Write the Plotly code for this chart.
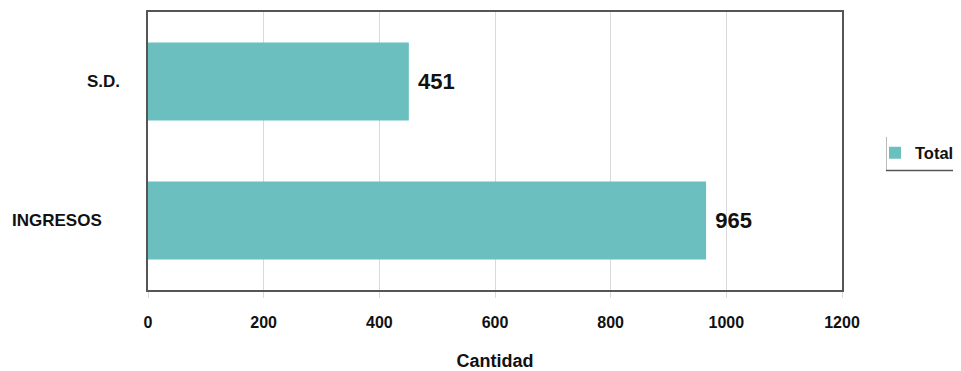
import plotly.graph_objects as go

categories = ["INGRESOS", "S.D."]
values = [965, 451]
x_ticks = [0, 200, 400, 600, 800, 1000, 1200]
series_name = "Total"
x_title = "Cantidad"

FONT = "Liberation Sans, Arial, sans-serif"
COLOR = "#6bbfbf"

# page body has an 8px margin; figure placed so the plot area lands where the reference has it
OFF = 8
PL, PR, PT, PB = 148, 842, 12, 290  # plot area in window pixels
W, H = 961 - OFF, 371 - OFF

def px2paper_x(px):
    return (px - PL) / (PR - PL)

def px2paper_y(py):
    return (PB - py) / (PB - PT)

def px2cont_x(px):
    return (px - OFF) / W

def px2cont_y(py):
    return 1 - (py - OFF) / H

fig = go.Figure()
fig.add_trace(go.Bar(
    y=categories, x=values, orientation="h", name="<b>" + series_name + "</b>",
    marker=dict(color=COLOR, line=dict(width=0)),
    texttemplate="\u00a0<b>%{x}</b>", textposition="outside",
    textfont=dict(family=FONT, size=22, color="#111"),
    cliponaxis=False, showlegend=True,
))

fig.update_layout(
    width=W, height=H,
    margin=dict(l=PL - OFF, r=OFF + W - PR, t=PT - OFF, b=OFF + H - PB, pad=0,
                autoexpand=False),
    paper_bgcolor="white", plot_bgcolor="white",
    bargap=0.44,
    font=dict(family=FONT, color="#111"),
    xaxis=dict(
        range=[0, 1200], tickvals=x_ticks, ticktext=["<b>%d</b>" % t for t in x_ticks],
        showgrid=True, gridcolor="#d9d9d9", gridwidth=1,
        ticks="outside", ticklen=6, tickcolor="#d9d9d9",
        ticklabelstandoff=11,
        tickfont=dict(family=FONT, size=16, color="#111"),
        showline=True, linecolor="#555", linewidth=1.5, mirror=True,
        zeroline=False,
        title=dict(text="<b>" + x_title + "</b>", font=dict(family=FONT, size=18, color="#111"), standoff=24),
    ),
    yaxis=dict(
        showticklabels=False, showgrid=False,
        showline=True, linecolor="#555", linewidth=1.5, mirror=True,
        categoryorder="array", categoryarray=categories,
    ),
    legend=dict(
        x=px2cont_x(875), xref="container", xanchor="left",
        y=px2cont_y(153), yref="container", yanchor="middle",
        font=dict(family=FONT, size=16.5, color="#111"),
        bgcolor="rgba(0,0,0,0)", borderwidth=0,
        itemwidth=30,
    ),
)

# category labels
label_right = {"INGRESOS": 104, "S.D.": 122}
for c in categories:
    fig.add_annotation(
        x=px2paper_x(label_right[c]), xref="paper", xanchor="right",
        y=c, yref="y", yanchor="middle",
        text="<b>" + c + "</b>", showarrow=False,
        font=dict(family=FONT, size=17, color="#111"),
    )

# legend frame (left + bottom lines)
fig.add_shape(type="line", xref="paper", yref="paper",
              x0=px2paper_x(886.5), x1=px2paper_x(886.5), y0=px2paper_y(137), y1=px2paper_y(170),
              line=dict(color="#bbb", width=1))
fig.add_shape(type="line", xref="paper", yref="paper",
              x0=px2paper_x(886), x1=px2paper_x(961), y0=px2paper_y(170.5), y1=px2paper_y(170.5),
              line=dict(color="#555", width=1.5))

fig.write_html("out.html")
